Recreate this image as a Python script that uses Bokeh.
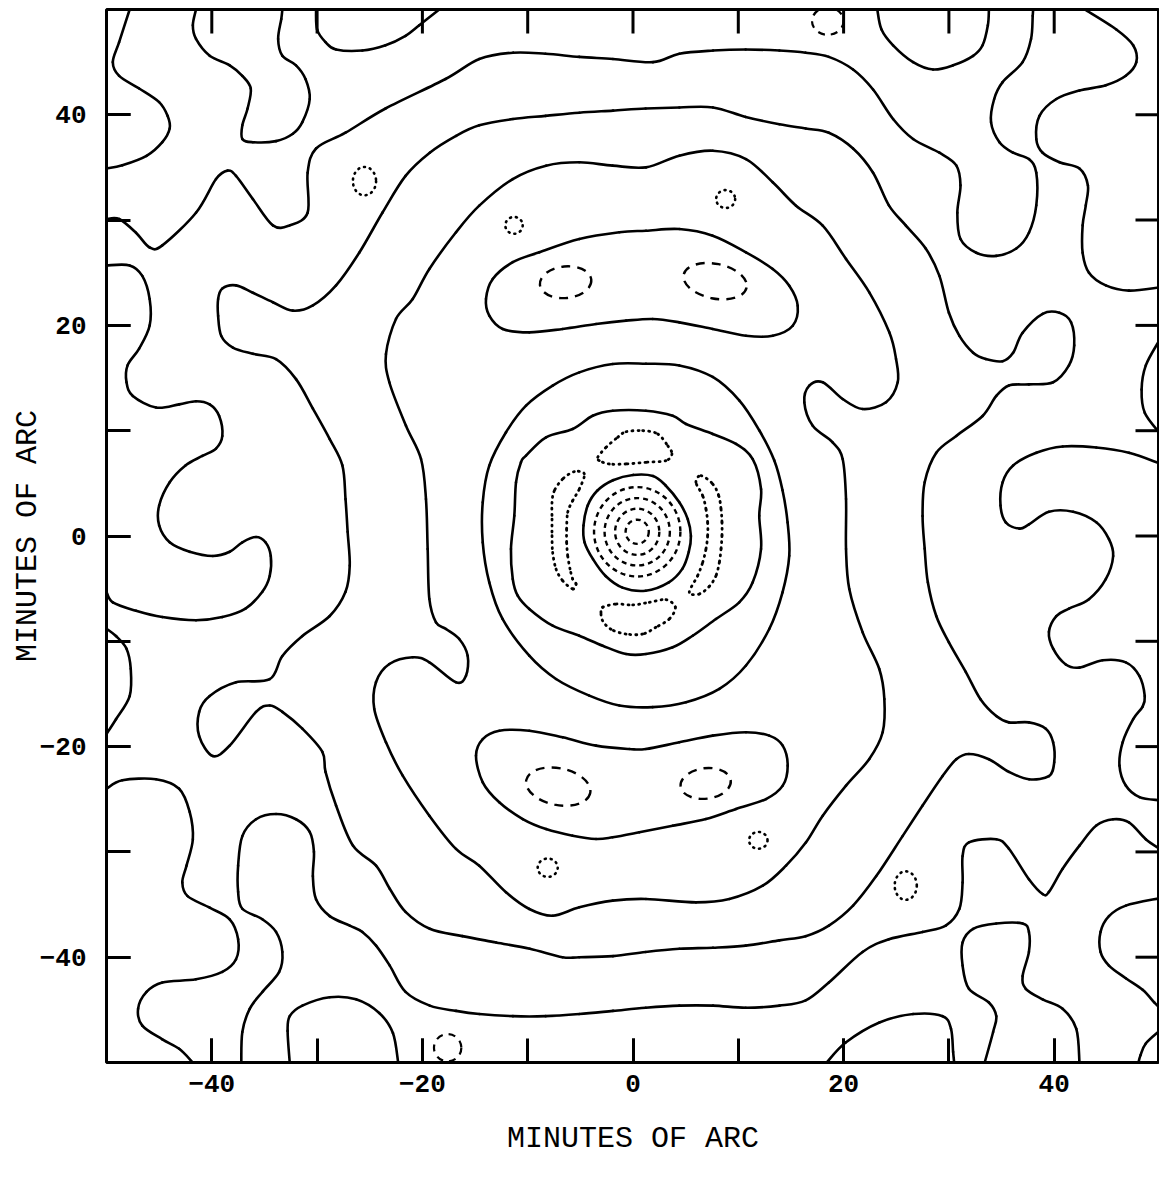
import math
from bokeh.plotting import figure
from bokeh.models import FixedTicker, Range1d
from bokeh.embed import file_html
from bokeh.resources import INLINE

# ---------------- axis ticks ----------------
tick_major = [-40, -20, 0, 20, 40]
tick_minor = [-40, -30, -20, -10, 0, 10, 20, 30, 40]

# ---------------- solid contours (minutes of arc) ----------------
core_ring = [(-4.7,1.0),(-4.3,2.9),(-3.4,4.3),(-1.9,5.3),(0.0,5.8),(1.9,5.7),(3.1,4.8),(4.4,3.2),
             (5.2,1.6),(5.5,0.0),(5.3,-1.5),(4.7,-3.1),(3.4,-4.4),(1.2,-5.2),(-1.0,-4.9),(-2.6,-3.8),
             (-3.8,-2.2),(-4.6,-0.6)]

ring2 = [(-10.64,7.0),(-10.16,7.63),(-8.26,9.37),(-5.73,10.16),(-3.83,11.42),(-1.93,11.9),(1.23,11.9),
         (3.77,11.42),(5.03,10.64),(7.57,9.69),(9.78,8.74),(11.37,7.31),(12.16,4.46),(11.99,1.93),
         (12.16,-1.23),(11.37,-4.4),(10.09,-6.3),(7.88,-7.88),(5.67,-9.47),(3.77,-10.57),(1.23,-11.21),
         (-0.66,-11.21),(-2.88,-10.42),(-5.1,-9.47),(-7.63,-8.52),(-9.85,-6.93),(-10.95,-5.67),
         (-11.42,-4.08),(-11.59,-1.23),(-11.27,1.93),(-11.11,5.1)]

ring3 = [(1.23,16.36),(4.4,16.2),(7.57,15.1),(10.09,12.88),(11.99,10.04),(13.41,7.19),(14.2,4.34),
         (14.68,1.3),(14.84,-1.87),(14.2,-5.35),(12.94,-8.83),(10.73,-12.3),(8.2,-14.52),(5.03,-15.79),
         (1.87,-16.25),(-1.3,-16.1),(-4.15,-15.16),(-7.31,-13.58),(-9.85,-11.37),(-12.39,-7.88),
         (-13.65,-4.4),(-14.27,-0.6),(-14.27,3.2),(-13.65,6.68),(-12.06,9.85),(-10.16,12.38),
         (-7.63,14.28),(-5.1,15.54),(-1.93,16.33)]

kidney_top = [(-13.96,22.51),(-13.32,24.41),(-11.42,26.0),(-8.9,26.94),(-5.1,28.2),(-1.3,28.84),
              (1.23,28.99),(4.4,29.15),(7.57,28.52),(10.73,26.94),(13.27,25.36),(14.84,23.77),
              (15.64,21.87),(15.17,19.97),(13.27,19.02),(10.73,19.02),(7.57,19.66),(4.4,20.29),
              (1.87,20.61),(-0.66,20.45),(-3.51,20.13),(-6.68,19.66),(-9.85,19.34),(-12.37,19.66),
              (-13.65,20.92)]

kidney_bottom = [(-14.91,-20.86),(-14.27,-19.28),(-12.7,-18.49),(-9.85,-18.49),(-6.68,-19.12),
                 (-3.51,-19.91),(-0.35,-20.23),(1.23,-20.23),(4.4,-19.59),(7.57,-18.96),(10.73,-18.64),
                 (12.94,-18.96),(14.22,-19.91),(14.69,-21.81),(14.22,-23.71),(12.63,-24.98),(9.78,-25.93),
                 (6.93,-26.88),(3.77,-27.51),(0.6,-28.14),(-1.93,-28.61),(-3.51,-28.77),(-5.73,-28.46),
                 (-8.26,-27.83),(-10.47,-26.88),(-12.7,-25.29),(-14.27,-23.39)]

ring4 = [(-19.34,-5.98),(-19.5,-1.23),(-19.66,3.51),(-20.13,7.31),(-21.56,10.47),(-23.14,14.6),
         (-23.46,17.28),(-22.51,20.61),(-20.92,22.51),(-19.34,25.36),(-16.81,28.84),(-14.6,31.37),
         (-11.42,33.9),(-8.26,35.17),(-5.1,35.49),(-1.93,35.17),(1.23,35.01),(4.4,36.12),(7.57,36.59),
         (10.73,35.8),(13.27,33.59),(15.48,31.37),(18.02,29.47),(20.23,26.31),(22.44,23.14),
         (24.34,19.34),(24.98,16.81),(25.14,14.6),(24.03,12.7),(21.81,12.06),(19.91,13.01),
         (18.02,14.6),(16.74,14.27),(16.27,12.7),(17.07,10.47),(18.96,8.9),(19.91,7.31),(20.23,3.51),
         (20.23,-1.23),(20.54,-5.03),(21.81,-9.15),(23.39,-12.63),(23.87,-15.48),(23.71,-18.64),
         (22.44,-21.18),(20.23,-23.71),(18.02,-26.56),(16.43,-29.09),(14.53,-31.31),(12.32,-33.21),
         (9.15,-34.47),(5.98,-34.79),(1.23,-34.47),(-1.93,-34.63),(-5.1,-35.26),(-7.63,-36.06),
         (-9.85,-35.42),(-12.06,-33.84),(-14.6,-31.31),(-16.81,-29.72),(-19.34,-26.56),(-21.87,-22.76),
         (-23.46,-19.59),(-24.57,-16.43),(-24.41,-13.89),(-23.14,-12.16),(-20.92,-11.52),(-19.34,-11.99),
         (-16.81,-13.89),(-15.86,-13.27),(-15.7,-11.37),(-16.5,-9.78),(-17.76,-8.83),(-18.71,-8.2)]

ring5 = [(-16.8,38.0),(-14.6,39.0),(-11.4,39.6),(-8.3,39.9),(-5.1,40.2),(-1.9,40.4),(1.2,40.6),(4.4,40.7),
         (7.6,40.7),(10.7,39.8),(13.9,39.1),(16.4,38.7),(18.6,38.3),(20.9,36.8),(22.8,34.5),(24.3,31.4),
         (25.9,29.5),(27.8,27.3),(29.1,24.7),(30.0,21.2),(31.0,19.0),(32.3,17.4),(33.5,16.8),(35.1,16.6),
         (36.1,17.4),(37.0,19.3),(38.9,21.1),(40.5,21.2),(41.6,20.3),(41.9,18.1),(41.4,16.2),(39.9,14.6),
         (37.6,14.4),(35.7,14.3),(34.5,13.3),(33.2,11.4),(30.7,9.5),(28.8,7.9),(27.7,5.1),(27.5,1.9),
         (27.7,-1.2),(28.0,-4.4),(28.8,-7.6),(30.0,-10.1),(31.6,-12.9),(33.0,-15.5),(34.5,-17.1),
         (35.7,-17.7),(37.6,-17.7),(39.2,-18.3),(39.9,-19.6),(40.0,-21.5),(39.5,-22.8),(37.6,-23.1),
         (35.7,-22.4),(33.8,-21.2),(31.9,-20.7),(30.7,-21.2),(29.4,-22.8),(27.5,-25.6),(25.6,-28.5),
         (23.1,-32.3),(20.9,-35.1),(18.6,-37.0),(16.4,-38.0),(13.9,-38.4),(10.7,-38.9),(7.6,-39.1),
         (4.4,-39.2),(1.2,-39.5),(-1.9,-39.9),(-5.1,-40.0),(-6.7,-40.0),(-9.8,-39.2),(-13.0,-38.6),
         (-16.2,-38.0),(-19.3,-37.3),(-21.6,-35.7),(-23.1,-33.5),(-24.4,-31.3),(-26.6,-29.4),
         (-28.2,-25.6),(-29.2,-22.4),(-29.5,-20.5),(-31.4,-18.3),(-33.3,-16.7),(-34.5,-16.1),
         (-35.8,-16.7),(-38.3,-19.9),(-39.9,-20.9),(-41.2,-19.0),(-41.2,-16.7),(-40.2,-15.2),
         (-37.7,-13.9),(-34.5,-13.6),(-33.3,-11.4),(-31.4,-9.5),(-28.8,-7.6),(-27.3,-5.3),(-26.9,-2.8),
         (-27.1,0.4),(-27.3,3.5),(-27.6,6.7),(-28.8,9.2),(-30.4,12.1),(-32.0,14.9),(-33.9,16.8),
         (-36.1,17.3),(-38.0,17.9),(-39.1,19.0),(-39.4,20.9),(-39.4,22.5),(-39.0,23.5),(-37.7,23.8),
         (-36.1,23.1),(-34.2,22.2),(-32.3,21.4),(-30.4,21.9),(-28.2,23.8),(-26.0,26.9),(-23.8,30.7),
         (-21.6,34.2),(-19.3,36.4)]

# open contours running to the frame edges
ring6_open = [(-50.0,30.1),(-48.8,30.1),(-47.2,28.8),(-45.9,27.4),(-44.7,27.6),(-41.5,30.7),(-39.6,33.9),
              (-38.5,34.7),(-37.7,34.2),(-36.1,32.0),(-34.2,29.5),(-32.6,29.5),(-30.9,30.7),(-30.9,34.5),
              (-30.1,36.8),(-27.3,38.3),(-23.5,40.6),(-17.8,43.4),(-14.6,45.3),(-11.4,45.9),(-8.3,45.8),
              (-5.1,45.5),(-1.9,45.3),(1.9,45.0),(4.4,45.8),(7.6,46.1),(10.7,46.2),(13.9,46.1),(16.4,45.9),
              (18.6,45.5),(20.9,44.3),(22.8,42.4),(24.7,39.6),(26.6,37.7),(29.1,36.4),(30.7,35.2),
              (31.1,33.3),(30.8,30.7),(31.1,28.2),(32.6,26.9),(34.5,26.6),(36.4,27.3),(37.6,28.8),
              (38.3,31.4),(38.3,34.5),(37.6,35.8),(36.1,36.4),(34.8,37.4),(34.0,39.3),(34.3,41.5),
              (35.1,43.1),(37.0,45.0),(37.8,47.2),(37.96,49.4),(38.0,50.0)]

edge_t1 = [(-47.8,50.0),(-48.8,46.9),(-49.4,45.0),(-48.8,43.7),(-46.9,42.5),(-45.0,41.2),(-44.2,39.9),
           (-44.0,38.7),(-44.7,37.4),(-46.2,36.1),(-48.5,35.2),(-50.0,34.9)]
edge_t2 = [(-41.5,50.0),(-41.8,48.5),(-41.5,47.2),(-40.2,45.6),(-38.3,44.7),(-37.1,43.7),(-36.3,42.5),
           (-36.6,40.6),(-37.1,39.0),(-37.1,37.7),(-36.1,37.4),(-33.9,37.5),(-32.3,38.2),(-31.4,39.3),
           (-30.7,41.5),(-31.1,43.4),(-32.0,44.7),(-33.3,45.6),(-33.7,47.2),(-33.4,49.1),(-33.3,50.0)]
edge_t3 = [(-30.1,50.0),(-30.0,48.1),(-29.2,46.9),(-28.2,46.2),(-25.7,46.1),(-23.5,46.6),(-21.6,47.5),
           (-20.3,48.5),(-18.4,50.0)]
edge_t4 = [(23.2,50.0),(23.6,48.1),(24.7,46.6),(26.6,45.0),(28.5,44.3),(30.4,44.7),(32.3,45.6),
           (33.2,46.6),(33.7,48.5),(33.8,50.0)]
edge_t5 = [(42.9,50.0),(45.9,48.1),(47.5,46.6),(47.8,45.0),(46.8,43.7),(44.9,42.8),(42.4,42.3),
           (40.2,41.5),(38.6,39.9),(38.3,37.7),(38.9,36.4),(40.5,35.5),(42.4,34.9),(43.2,33.3),
           (43.0,31.4),(42.7,29.5),(42.7,26.9),(43.3,25.0),(44.9,23.8),(47.1,23.3),(50.0,23.6)]
edge_r1 = [(50.0,18.6),(48.7,16.2),(48.3,13.9),(48.6,11.7),(50.0,9.8)]
edge_r2 = [(50.0,6.9),(47.1,7.9),(44.0,8.4),(40.8,8.5),(38.3,7.9),(36.1,6.7),(35.1,5.1),(34.9,2.9),
           (35.4,1.3),(36.7,0.7),(37.6,1.1),(39.5,2.3),(41.8,2.3),(44.0,1.3),(45.2,-0.3),(45.6,-1.9),
           (44.9,-4.1),(43.3,-6.0),(41.4,-6.9),(40.2,-7.6),(39.5,-9.1),(39.9,-10.7),(41.1,-12.2),
           (42.4,-12.5),(44.6,-11.8),(46.8,-12.0),(48.1,-13.3),(48.6,-15.2),(48.4,-16.2),(47.5,-17.4),
           (46.5,-19.6),(46.2,-21.8),(46.8,-23.7),(48.1,-24.8),(50.0,-25.1)]
edge_b1 = [(50.0,-34.4),(46.8,-35.1),(45.2,-36.1),(44.4,-37.6),(44.4,-39.5),(45.2,-40.8),(46.8,-42.0),
           (48.4,-43.1),(49.5,-44.3),(50.0,-44.8)]
edge_b2 = [(50.0,-47.0),(48.7,-48.2),(48.2,-49.3),(48.0,-50.0)]
edge_b3 = [(33.4,-50.0),(34.2,-47.1),(34.5,-45.6),(33.8,-44.3),(31.9,-43.0),(31.3,-40.8),(31.3,-38.6),
           (32.3,-37.3),(34.5,-36.8),(37.0,-36.8),(37.6,-37.6),(37.6,-39.5),(37.0,-41.8),(37.3,-43.0),
           (38.9,-44.0),(40.8,-44.9),(42.1,-46.8),(42.4,-50.0)]
edge_b4 = [(18.4,-50.0),(20.2,-48.1),(23.4,-46.2),(26.6,-45.4),(29.4,-45.6),(30.2,-46.8),(30.4,-49.0),
           (30.5,-50.0)]
edge_b5 = [(-37.2,-50.0),(-37.1,-47.1),(-36.4,-44.9),(-35.2,-43.3),(-33.6,-41.4),(-33.3,-39.5),
           (-33.9,-37.6),(-35.2,-36.4),(-37.1,-35.4),(-37.5,-33.8),(-37.5,-31.3),(-37.1,-28.5),
           (-35.8,-26.9),(-33.9,-26.4),(-32.0,-26.9),(-30.7,-28.1),(-30.3,-30.0),(-30.4,-32.3),
           (-30.1,-34.5),(-28.8,-36.1),(-26.9,-37.0),(-25.7,-37.6),(-24.4,-38.9),(-23.1,-40.8),
           (-21.6,-43.3),(-19.3,-44.6),(-16.8,-45.1),(-14.6,-45.4),(-11.4,-45.6),(-8.3,-45.6),
           (-5.1,-45.4),(-1.9,-45.1),(1.2,-44.8),(4.4,-44.6),(7.6,-44.6),(10.7,-44.8),(13.9,-44.6),
           (16.4,-44.1),(18.6,-42.4),(21.8,-39.5),(24.3,-38.3),(27.5,-37.6),(29.7,-37.0),(31.0,-35.4),
           (31.3,-32.9),(31.3,-30.4),(31.9,-29.1),(34.5,-28.8),(35.7,-29.7),(37.6,-32.6),(38.9,-34.0),
           (39.5,-33.8),(40.8,-31.6),(42.4,-29.4),(44.0,-27.5),(45.6,-26.9),(47.1,-27.2),(48.7,-28.8),
           (50.0,-29.7)]
edge_b6 = [(-32.6,-50.0),(-32.8,-47.0),(-32.6,-45.6),(-31.4,-44.6),(-28.8,-43.8),(-26.3,-44.0),
           (-24.1,-45.3),(-22.8,-47.2),(-22.3,-50.0)]
edge_l1 = [(-50.0,25.7),(-47.8,25.7),(-46.6,24.7),(-45.9,22.5),(-45.9,20.0),(-46.9,17.8),(-48.0,16.2),
           (-48.1,14.6),(-47.5,13.3),(-45.3,12.2),(-43.1,12.5),(-41.5,12.8),(-40.2,12.5),(-39.3,11.4),
           (-39.0,9.5),(-39.6,8.3),(-40.9,7.6),(-42.5,6.7),(-44.0,5.1),(-45.0,2.9),(-45.0,1.0),
           (-44.0,-0.6),(-42.1,-1.5),(-39.9,-1.9),(-38.3,-1.5),(-37.1,-0.6),(-35.8,-0.1),(-34.9,-0.6),
           (-34.4,-1.9),(-34.5,-3.8),(-35.2,-5.3),(-36.8,-6.9),(-39.0,-7.7),(-41.5,-8.0),(-44.7,-7.7),
           (-47.2,-7.1),(-49.4,-6.3),(-50.0,-5.3)]
edge_l2 = [(-50.0,-8.8),(-49.1,-9.5),(-48.1,-10.7),(-47.7,-12.6),(-47.8,-15.2),(-49.1,-17.4),(-50.0,-18.8)]
edge_l3 = [(-50.0,-24.0),(-48.5,-23.2),(-45.3,-23.1),(-43.1,-24.0),(-42.1,-26.2),(-41.8,-28.8),
           (-42.4,-31.3),(-42.8,-32.9),(-42.3,-34.2),(-40.2,-35.3),(-38.3,-36.4),(-37.5,-38.3),
           (-37.7,-40.2),(-39.0,-41.4),(-41.5,-42.1),(-44.7,-42.4),(-46.2,-43.3),(-47.0,-44.9),
           (-46.6,-46.5),(-44.7,-47.8),(-43.1,-48.7),(-41.8,-50.0)]

# ---------------- dotted closed contours near the peak ----------------
dot_top = [(-3.35,7.47),(-2.56,8.42),(-1.46,9.37),(-0.66,9.9),(0.92,10.0),(2.35,9.69),(3.3,8.57),
           (3.7,7.8),(3.13,7.16),(1.23,7.0),(-0.66,6.84),(-2.25,6.84),(-3.2,7.16)]
dot_bottom = [(-2.88,-6.77),(-1.61,-6.46),(-0.03,-6.55),(1.55,-6.3),(3.13,-6.05),(4.02,-6.77),
              (3.45,-7.88),(2.18,-8.67),(0.92,-9.31),(-0.66,-9.31),(-2.09,-8.86),(-2.88,-8.06),(-3.04,-7.28)]
dot_left = [(-5.57,6.11),(-6.68,5.41),(-7.47,4.3),(-7.69,3.2),(-7.69,1.61),(-7.69,0.03),(-7.63,-1.55),
            (-7.31,-3.13),(-6.68,-4.24),(-5.73,-5.03),(-5.41,-4.56),(-5.73,-4.08),(-5.98,-3.13),
            (-6.2,-1.87),(-6.3,-0.6),(-6.3,0.66),(-6.2,2.25),(-5.73,3.35),(-5.1,4.46),(-4.62,5.89)]
dot_right = [(6.46,5.73),(7.57,4.94),(8.14,3.83),(8.36,2.56),(8.45,1.3),(8.45,0.03),(8.36,-1.23),
             (8.2,-2.5),(7.88,-3.77),(7.25,-4.78),(6.3,-5.51),(5.35,-5.35),(6.14,-3.77),(6.62,-2.5),
             (6.93,-1.23),(7.09,0.03),(7.09,1.3),(6.93,2.56),(6.62,3.83),(5.98,5.1)]

# ---------------- dashed rings round the peak ----------------
peak_x = [0.4, 0.4, 0.4, 0.4]
peak_y = [0.4, 0.4, 0.4, 0.4]
peak_w = [2.2, 4.2, 6.2, 8.2]
peak_h = [2.3, 4.4, 6.4, 8.5]

# ---------------- dashed ellipses in the side lobes ----------------
lobe_x = [-6.4, 7.8, -7.1, 6.9]
lobe_y = [24.1, 24.2, -23.8, -23.5]
lobe_w = [4.9, 6.1, 6.2, 4.8]
lobe_h = [3.0, 3.3, 3.5, 2.9]
lobe_angle = [0.1, -0.2, -0.2, 0.12]

# ---------------- small dotted / dashed islands ----------------
dot_isl_x = [-25.5, -11.3, 8.8, -8.1, 11.9, 25.9]
dot_isl_y = [33.7, 29.5, 32.0, -31.5, -28.9, -33.2]
dot_isl_w = [2.2, 1.65, 1.8, 1.9, 1.75, 2.1]
dot_isl_h = [2.7, 1.6, 1.7, 1.75, 1.6, 2.7]

dash_isl_x = [18.5, -17.6]
dash_isl_y = [48.9, -48.6]
dash_isl_w = [3.0, 2.6]
dash_isl_h = [2.6, 2.6]


def bezier_pieces(pts, closed):
    """Smooth a traced contour: Catmull-Rom through the traced points, as cubic Bezier pieces."""
    n = len(pts)
    segs = []
    count = n if closed else n - 1
    for i in range(count):
        if closed:
            p0, p1, p2, p3 = pts[(i - 1) % n], pts[i], pts[(i + 1) % n], pts[(i + 2) % n]
        else:
            p0 = pts[max(i - 1, 0)]
            p1 = pts[i]
            p2 = pts[i + 1]
            p3 = pts[min(i + 2, n - 1)]
        c0 = (p1[0] + (p2[0] - p0[0]) / 6.0, p1[1] + (p2[1] - p0[1]) / 6.0)
        c1 = (p2[0] - (p3[0] - p1[0]) / 6.0, p2[1] - (p3[1] - p1[1]) / 6.0)
        segs.append((p1, p2, c0, c1))
    return segs


def bezier_source(curves):
    cols = {k: [] for k in ("x0", "y0", "x1", "y1", "cx0", "cy0", "cx1", "cy1")}
    for pts, closed in curves:
        for a, b, c0, c1 in bezier_pieces(pts, closed):
            cols["x0"].append(a[0]); cols["y0"].append(a[1])
            cols["x1"].append(b[0]); cols["y1"].append(b[1])
            cols["cx0"].append(c0[0]); cols["cy0"].append(c0[1])
            cols["cx1"].append(c1[0]); cols["cy1"].append(c1[1])
    return cols


solid_curves = [(core_ring, True), (ring2, True), (ring3, True), (kidney_top, True),
                (kidney_bottom, True), (ring4, True), (ring5, True), (ring6_open, False),
                (edge_t1, False), (edge_t2, False), (edge_t3, False), (edge_t4, False),
                (edge_t5, False), (edge_r1, False), (edge_r2, False), (edge_b1, False),
                (edge_b2, False), (edge_b3, False), (edge_b4, False), (edge_b5, False),
                (edge_b6, False), (edge_l1, False), (edge_l2, False), (edge_l3, False)]
dotted_curves = [(dot_top, True), (dot_bottom, True), (dot_left, True), (dot_right, True)]

p = figure(x_range=Range1d(-50, 50), y_range=Range1d(-50, 50),
           frame_width=1053, frame_height=1053,
           min_border_left=106, min_border_right=0, min_border_top=9, min_border_bottom=108,
           toolbar_location=None, output_backend="svg",
           x_axis_label="MINUTES OF ARC", y_axis_label="MINUTES OF ARC")
p.background_fill_color = "white"
p.border_fill_color = "white"
p.outline_line_color = "black"
p.outline_line_width = 3
p.xgrid.visible = False
p.ygrid.visible = False

sc = bezier_source(solid_curves)
p.bezier(x0=sc["x0"], y0=sc["y0"], x1=sc["x1"], y1=sc["y1"],
         cx0=sc["cx0"], cy0=sc["cy0"], cx1=sc["cx1"], cy1=sc["cy1"],
         line_color="black", line_width=2.6, line_cap="round")
dc = bezier_source(dotted_curves)
p.bezier(x0=dc["x0"], y0=dc["y0"], x1=dc["x1"], y1=dc["y1"],
         cx0=dc["cx0"], cy0=dc["cy0"], cx1=dc["cx1"], cy1=dc["cy1"],
         line_color="black", line_width=2.8, line_dash="1 5", line_cap="round")
p.ellipse(x=peak_x, y=peak_y, width=peak_w, height=peak_h, fill_color=None,
          line_color="black", line_width=2.4, line_dash="5 4")
p.ellipse(x=lobe_x, y=lobe_y, width=lobe_w, height=lobe_h, angle=lobe_angle, fill_color=None,
          line_color="black", line_width=2.4, line_dash="9 7")
p.ellipse(x=dot_isl_x, y=dot_isl_y, width=dot_isl_w, height=dot_isl_h, fill_color=None,
          line_color="black", line_width=2.6, line_dash="1 5", line_cap="round")
p.ellipse(x=dash_isl_x, y=dash_isl_y, width=dash_isl_w, height=dash_isl_h, fill_color=None,
          line_color="black", line_width=2.2, line_dash="7 6")

# inward ticks along the top and right edges of the frame
p.ray(x=tick_minor, y=[p.y_range.end] * len(tick_minor), length=24, length_units="screen",
      angle=-math.pi / 2, line_color="black", line_width=3)
p.ray(x=[p.x_range.end] * len(tick_minor), y=tick_minor, length=24, length_units="screen",
      angle=math.pi, line_color="black", line_width=3)


def style_axis(ax):
    ax.ticker = FixedTicker(ticks=tick_major, minor_ticks=tick_minor)
    ax.axis_line_color = None
    ax.major_tick_in = 24
    ax.major_tick_out = 0
    ax.minor_tick_in = 24
    ax.minor_tick_out = 0
    ax.major_tick_line_width = 3
    ax.minor_tick_line_width = 3
    ax.major_tick_line_color = "black"
    ax.minor_tick_line_color = "black"
    ax.major_label_text_font = "Liberation Mono"
    ax.major_label_text_font_style = "bold"
    ax.major_label_text_font_size = "26px"
    ax.major_label_text_color = "black"
    ax.axis_label_text_font = "Liberation Mono"
    ax.axis_label_text_font_style = "normal"
    ax.axis_label_text_font_size = "30px"
    ax.axis_label_text_color = "black"


style_axis(p.xaxis[0])
style_axis(p.yaxis[0])
p.xaxis[0].major_label_standoff = 12
p.xaxis[0].axis_label_standoff = 27
p.yaxis[0].major_label_standoff = 20
p.yaxis[0].axis_label_standoff = -8

open("out.html", "w").write(file_html(p, INLINE))
